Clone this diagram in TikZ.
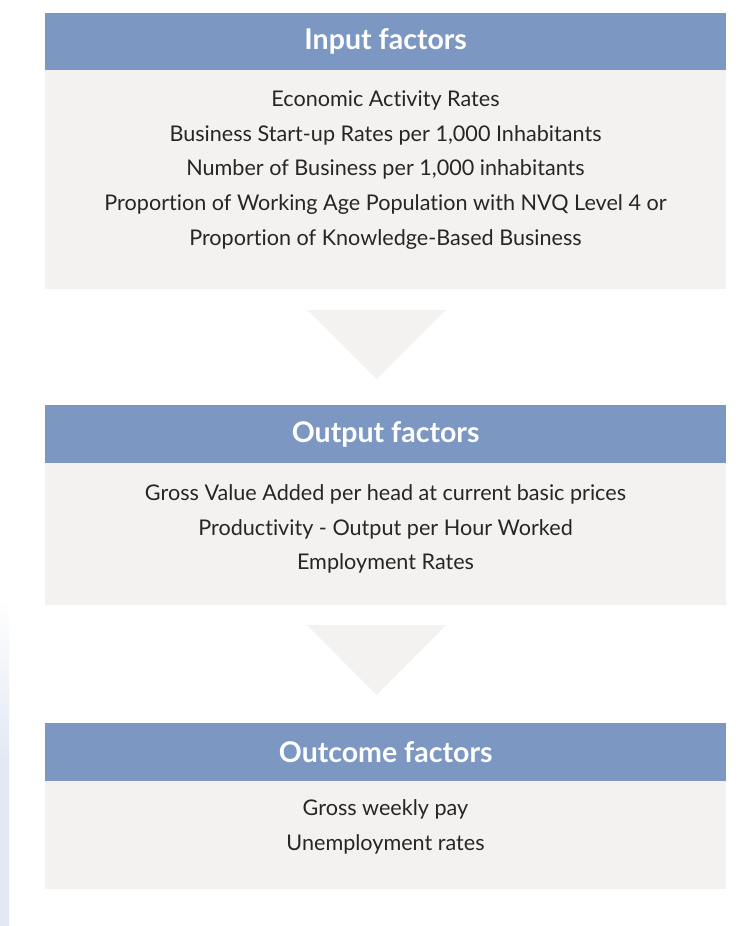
\documentclass[tikz,border=0pt]{standalone}
\usepackage{fontspec}
\setmainfont{Lato}[Ligatures=NoCommon]
\definecolor{headblue}{RGB}{123,151,194}
\definecolor{panelgrey}{RGB}{243,242,240}
\definecolor{textgrey}{RGB}{38,38,38}
\definecolor{edgeblue}{RGB}{226,232,243}
\tikzset{
	header/.style={fill=headblue, text=white, minimum width=681pt, minimum height=58pt, inner sep=0pt, anchor=north west, font=\fontsize{28.5}{32}\selectfont\bfseries},
	factors/.style={text=textgrey, align=center, inner sep=0pt, font=\fontsize{21.6}{34.8}\selectfont},
	pointer/.style={fill=panelgrey}
}

\begin{document}
\begin{tikzpicture}[x=1pt, y=-1pt]
			%%%%% START %%%%%
			
			\useasboundingbox (0, 0) rectangle (750, 926);
			\fill[top color=white, bottom color=edgeblue, middle color=edgeblue] (0, 600) rectangle (9, 926);
			
			\node[header] (inputhead) at (45, 12.5) {Input factors};
			\fill[panelgrey] (45, 70) rectangle (726, 289);
			\node[factors] (inputlist) at (385.5, 170) {Economic Activity Rates\\Business Start-up Rates per 1,000 Inhabitants\\Number of Business per 1,000 inhabitants\\Proportion of Working Age Population with NVQ Level 4 or\\Proportion of Knowledge-Based Business};
			
			\fill[pointer] (307, 310) -- (446, 310) -- (376.5, 379) -- cycle;
			
			\node[header] (outputhead) at (45, 405) {Output factors};
			\fill[panelgrey] (45, 463) rectangle (726, 605);
			\node[factors] (outputlist) at (385.5, 529) {Gross Value Added per head at current basic prices\\Productivity - Output per Hour Worked\\Employment Rates};
			
			\fill[pointer] (307, 625) -- (446, 625) -- (376.5, 695) -- cycle;
			
			\node[header] (outcomehead) at (45, 723) {Outcome factors};
			\fill[panelgrey] (45, 781) rectangle (726, 889);
			\node[factors] (outcomelist) at (385.5, 827) {Gross weekly pay\\Unemployment rates};
			
			%%%%% END %%%%%
		\end{tikzpicture}
\end{document}
